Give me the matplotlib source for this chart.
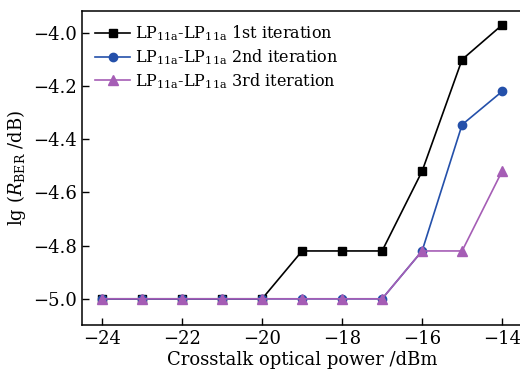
import matplotlib
matplotlib.use("Agg")
import matplotlib.pyplot as plt

plt.rcParams['font.family'] = ['DejaVu Serif']
plt.rcParams['mathtext.fontset'] = 'dejavuserif'

# crosstalk power (dBm) and lg(BER) for each iteration
power = [-24, -23, -22, -21, -20, -19, -18, -17, -16, -15, -14]
iter1 = [-5.0, -5.0, -5.0, -5.0, -5.0, -4.82, -4.82, -4.82, -4.52, -4.10, -3.97]
iter2 = [-5.0, -5.0, -5.0, -5.0, -5.0, -5.0, -5.0, -5.0, -4.82, -4.345, -4.22]
iter3 = [-5.0, -5.0, -5.0, -5.0, -5.0, -5.0, -5.0, -5.0, -4.82, -4.82, -4.52]
labels = [r'LP$_{\mathregular{11a}}$-LP$_{\mathregular{11a}}$ 1st iteration',
          r'LP$_{\mathregular{11a}}$-LP$_{\mathregular{11a}}$ 2nd iteration',
          r'LP$_{\mathregular{11a}}$-LP$_{\mathregular{11a}}$ 3rd iteration']
xticks = [-24, -22, -20, -18, -16, -14]
yticks = [-5.0, -4.8, -4.6, -4.4, -4.2, -4.0]

fig = plt.figure(figsize=(5.2, 3.76), dpi=100)
ax = fig.add_axes([0.158, 0.136, 0.846, 0.835])

ax.plot(power, iter1, color='black', marker='s', markersize=5.5, linewidth=1.2, label=labels[0])
ax.plot(power, iter2, color='#2450aa', marker='o', markersize=6, linewidth=1.2, label=labels[1])
ax.plot(power, iter3, color='#a55db5', marker='^', markersize=6.5, linewidth=1.2, label=labels[2])

ax.set_xlim(-24.5, -13.5)
ax.set_ylim(-5.098, -3.917)
ax.set_xticks(xticks)
ax.set_xticklabels(['\u2212%d' % abs(v) for v in xticks])
ax.set_yticks(yticks)
ax.set_yticklabels(['\u2212%.1f' % abs(v) for v in yticks])
ax.tick_params(direction='in', length=5, width=1, labelsize=13)
ax.spines['right'].set_visible(False)
for s in ['left', 'top', 'bottom']:
    ax.spines[s].set_linewidth(1.1)

ax.set_xlabel('Crosstalk optical power /dBm', fontsize=13, labelpad=2)
ax.set_ylabel(r'lg ($R_{\mathregular{BER}}$ /dB)', fontsize=13, labelpad=4)

ax.legend(loc='upper left', frameon=False, fontsize=11.5, handlelength=2.2,
          handletextpad=0.3, borderaxespad=0.5, borderpad=0.3, labelspacing=0.25)

fig.savefig('out.png', dpi=100)
